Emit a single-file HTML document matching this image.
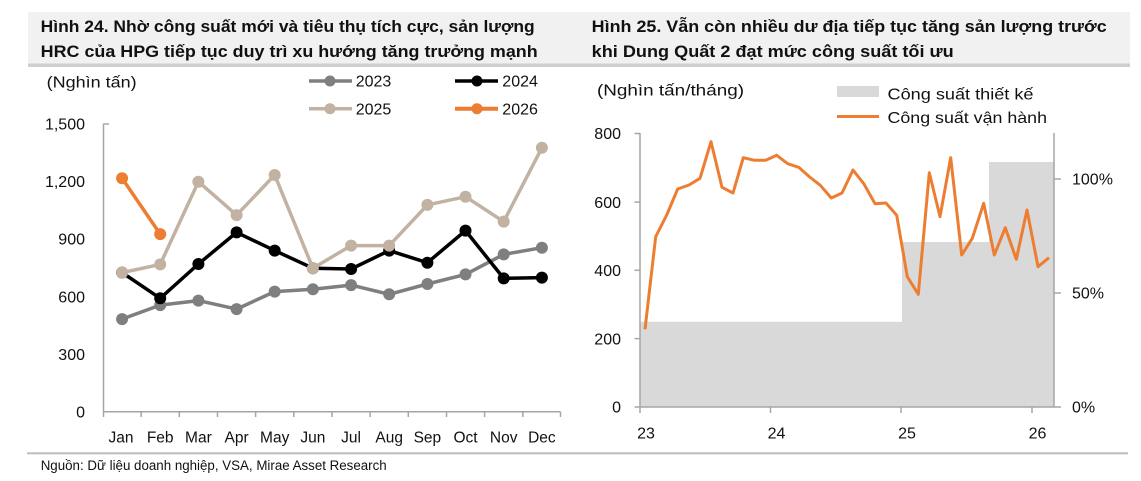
<!DOCTYPE html>
<html><head><meta charset="utf-8"><style>
html,body{margin:0;padding:0;background:#fff;}
svg{display:block;}
text{font-family:"Liberation Sans","Noto Sans CJK SC",sans-serif;fill:#111;}
</style></head><body>
<svg width="1141" height="481" viewBox="0 0 1141 481" xmlns="http://www.w3.org/2000/svg">
<!-- title bar -->
<rect x="28" y="12" width="1102" height="52" fill="#f1f1f1"/>
<rect x="28" y="63.5" width="1102" height="3.5" fill="#cfcfcf"/>
<text x="40.7" y="32" font-size="17" font-weight="bold" textLength="494" lengthAdjust="spacingAndGlyphs">Hình 24. Nhờ công suất mới và tiêu thụ tích cực, sản lượng</text>
<text x="40.7" y="57" font-size="17" font-weight="bold" textLength="497" lengthAdjust="spacingAndGlyphs">HRC của HPG tiếp tục duy trì xu hướng tăng trưởng mạnh</text>
<text x="591.7" y="32" font-size="17" font-weight="bold" textLength="515" lengthAdjust="spacingAndGlyphs">Hình 25. Vẫn còn nhiều dư địa tiếp tục tăng sản lượng trước</text>
<text x="591.7" y="57" font-size="17" font-weight="bold" textLength="362" lengthAdjust="spacingAndGlyphs">khi Dung Quất 2 đạt mức công suất tối ưu</text>

<!-- bottom separator + source -->
<rect x="27" y="452.3" width="1101" height="2" fill="#bdbdbd"/>
<text x="40.7" y="470" font-size="13.5" textLength="346" lengthAdjust="spacingAndGlyphs">Nguồn: Dữ liệu doanh nghiệp, VSA, Mirae Asset Research</text>

<!-- ============ LEFT CHART ============ -->
<text x="46.7" y="87.3" font-size="16" textLength="90" lengthAdjust="spacingAndGlyphs">(Nghìn tấn)</text>
<!-- legend -->
<line x1="309" y1="81" x2="352" y2="81" stroke="#7f7f7f" stroke-width="3.5"/>
<circle cx="330" cy="81" r="5.5" fill="#7f7f7f"/>
<text x="355.7" y="86.7" font-size="16">2023</text>
<line x1="455" y1="81" x2="498" y2="81" stroke="#000" stroke-width="3.5"/>
<circle cx="477" cy="81" r="5.5" fill="#000"/>
<text x="502.3" y="86.7" font-size="16">2024</text>
<line x1="309" y1="108.7" x2="352" y2="108.7" stroke="#c2b2a2" stroke-width="3.5"/>
<circle cx="330" cy="108.7" r="5.5" fill="#c2b2a2"/>
<text x="355.7" y="114.3" font-size="16">2025</text>
<line x1="455" y1="108.7" x2="498" y2="108.7" stroke="#ed7d31" stroke-width="4"/>
<circle cx="477" cy="108.7" r="5.5" fill="#ed7d31"/>
<text x="502.3" y="114.3" font-size="16">2026</text>

<!-- y labels -->
<g font-size="16" text-anchor="end">
<text x="85" y="129.7">1,500</text>
<text x="85" y="187.2">1,200</text>
<text x="85" y="244.7">900</text>
<text x="85" y="302.3">600</text>
<text x="85" y="359.9">300</text>
<text x="85" y="417.4">0</text>
</g>
<!-- axes -->
<g stroke="#a6a6a6" stroke-width="1.5" fill="none">
<line x1="103.5" y1="123.5" x2="103.5" y2="411.7"/>
<line x1="103.5" y1="124" x2="109" y2="124"/>
<line x1="103" y1="411.7" x2="560.5" y2="411.7"/>
<line x1="103.5" y1="411.7" x2="103.5" y2="417"/>
<line x1="141.2" y1="411.7" x2="141.2" y2="417"/>
<line x1="179.3" y1="411.7" x2="179.3" y2="417"/>
<line x1="217.5" y1="411.7" x2="217.5" y2="417"/>
<line x1="255.6" y1="411.7" x2="255.6" y2="417"/>
<line x1="293.8" y1="411.7" x2="293.8" y2="417"/>
<line x1="332" y1="411.7" x2="332" y2="417"/>
<line x1="370.1" y1="411.7" x2="370.1" y2="417"/>
<line x1="408.3" y1="411.7" x2="408.3" y2="417"/>
<line x1="446.5" y1="411.7" x2="446.5" y2="417"/>
<line x1="484.6" y1="411.7" x2="484.6" y2="417"/>
<line x1="522.8" y1="411.7" x2="522.8" y2="417"/>
<line x1="560.5" y1="411.7" x2="560.5" y2="417"/>
</g>
<!-- month labels -->
<g font-size="15.5" text-anchor="middle">
<text x="121" y="442.7">Jan</text>
<text x="160.2" y="442.7">Feb</text>
<text x="198.4" y="442.7">Mar</text>
<text x="236.6" y="442.7">Apr</text>
<text x="274.7" y="442.7">May</text>
<text x="312.9" y="442.7">Jun</text>
<text x="351.1" y="442.7">Jul</text>
<text x="389.2" y="442.7">Aug</text>
<text x="427.4" y="442.7">Sep</text>
<text x="465.5" y="442.7">Oct</text>
<text x="503.7" y="442.7">Nov</text>
<text x="541.9" y="442.7">Dec</text>
</g>
<!-- series 2023 -->
<g fill="#7f7f7f">
<polyline fill="none" stroke="#7f7f7f" stroke-width="3.5" stroke-linejoin="round" points="122.1,319.1 160.2,305.1 198.4,300.6 236.6,309.1 274.7,291.6 312.9,289.3 351.1,285.1 389.2,294.3 427.4,284 465.5,274.4 503.7,254.4 541.9,247.7"/>
<circle cx="122.1" cy="319.1" r="6"/><circle cx="160.2" cy="305.1" r="6"/><circle cx="198.4" cy="300.6" r="6"/><circle cx="236.6" cy="309.1" r="6"/><circle cx="274.7" cy="291.6" r="6"/><circle cx="312.9" cy="289.3" r="6"/><circle cx="351.1" cy="285.1" r="6"/><circle cx="389.2" cy="294.3" r="6"/><circle cx="427.4" cy="284" r="6"/><circle cx="465.5" cy="274.4" r="6"/><circle cx="503.7" cy="254.4" r="6"/><circle cx="541.9" cy="247.7" r="6"/>
</g>
<!-- series 2024 -->
<g fill="#000">
<polyline fill="none" stroke="#000" stroke-width="3.5" stroke-linejoin="round" points="122.1,272.6 160.2,298.3 198.4,264 236.6,232.4 274.7,250.6 312.9,268.2 351.1,269 389.2,250.6 427.4,262.7 465.5,230.6 503.7,278.4 541.9,277.6"/>
<circle cx="122.1" cy="272.6" r="6"/><circle cx="160.2" cy="298.3" r="6"/><circle cx="198.4" cy="264" r="6"/><circle cx="236.6" cy="232.4" r="6"/><circle cx="274.7" cy="250.6" r="6"/><circle cx="312.9" cy="268.2" r="6"/><circle cx="351.1" cy="269" r="6"/><circle cx="389.2" cy="250.6" r="6"/><circle cx="427.4" cy="262.7" r="6"/><circle cx="465.5" cy="230.6" r="6"/><circle cx="503.7" cy="278.4" r="6"/><circle cx="541.9" cy="277.6" r="6"/>
</g>
<!-- series 2025 -->
<g fill="#c2b2a2">
<polyline fill="none" stroke="#c2b2a2" stroke-width="3.5" stroke-linejoin="round" points="122.1,272.6 160.2,264.4 198.4,181.7 236.6,215.1 274.7,175 312.9,268.2 351.1,245.6 389.2,245.6 427.4,204.9 465.5,196.7 503.7,221.6 541.9,147.8"/>
<circle cx="122.1" cy="272.6" r="6"/><circle cx="160.2" cy="264.4" r="6"/><circle cx="198.4" cy="181.7" r="6"/><circle cx="236.6" cy="215.1" r="6"/><circle cx="274.7" cy="175" r="6"/><circle cx="312.9" cy="268.2" r="6"/><circle cx="351.1" cy="245.6" r="6"/><circle cx="389.2" cy="245.6" r="6"/><circle cx="427.4" cy="204.9" r="6"/><circle cx="465.5" cy="196.7" r="6"/><circle cx="503.7" cy="221.6" r="6"/><circle cx="541.9" cy="147.8" r="6"/>
</g>
<!-- series 2026 -->
<g fill="#ed7d31">
<polyline fill="none" stroke="#ed7d31" stroke-width="3.5" points="122.1,178.3 160.2,234.1"/>
<circle cx="122.1" cy="178.3" r="6"/><circle cx="160.2" cy="234.1" r="6"/>
</g>

<!-- ============ RIGHT CHART ============ -->
<text x="597" y="95.5" font-size="16" textLength="147" lengthAdjust="spacingAndGlyphs">(Nghìn tấn/tháng)</text>
<rect x="837" y="86" width="42" height="11" fill="#d9d9d9"/>
<text x="887.5" y="99.5" font-size="16" textLength="146" lengthAdjust="spacingAndGlyphs">Công suất thiết kế</text>
<line x1="837" y1="116.5" x2="879" y2="116.5" stroke="#ed7d31" stroke-width="3"/>
<text x="887.5" y="123" font-size="16" textLength="159.5" lengthAdjust="spacingAndGlyphs">Công suất vận hành</text>

<!-- design capacity area -->
<polygon points="640,407 640,321.7 902,321.7 902,242 989,242 989,162 1054,162 1054,407" fill="#d9d9d9"/>

<!-- left y labels -->
<g font-size="16" text-anchor="end">
<text x="621" y="139.2">800</text>
<text x="621" y="207.8">600</text>
<text x="621" y="276">400</text>
<text x="621" y="344.3">200</text>
<text x="621" y="412.7">0</text>
</g>
<!-- right y labels -->
<g font-size="16">
<text x="1072" y="184.7">100%</text>
<text x="1072" y="298.7">50%</text>
<text x="1072" y="412.4">0%</text>
</g>
<!-- x labels -->
<g font-size="16" text-anchor="middle">
<text x="646" y="438.3">23</text>
<text x="776.5" y="438.3">24</text>
<text x="907" y="438.3">25</text>
<text x="1037.5" y="438.3">26</text>
</g>
<!-- axes -->
<g stroke="#a6a6a6" stroke-width="1.5" fill="none">
<line x1="640" y1="133" x2="640" y2="407"/>
<line x1="634.5" y1="133.5" x2="640" y2="133.5"/>
<line x1="634.5" y1="202.1" x2="640" y2="202.1"/>
<line x1="634.5" y1="270.3" x2="640" y2="270.3"/>
<line x1="634.5" y1="338.6" x2="640" y2="338.6"/>
<line x1="634.5" y1="407" x2="640" y2="407"/>
<line x1="640" y1="407" x2="1054" y2="407"/>
<line x1="640" y1="407" x2="640" y2="413"/>
<line x1="770.5" y1="407" x2="770.5" y2="413"/>
<line x1="901" y1="407" x2="901" y2="413"/>
<line x1="1032" y1="407" x2="1032" y2="413"/>
<line x1="1054" y1="133" x2="1054" y2="407"/>
<line x1="1054" y1="179" x2="1061" y2="179"/>
<line x1="1054" y1="293" x2="1061" y2="293"/>
<line x1="1054" y1="407" x2="1061" y2="407"/>
</g>
<!-- operating capacity line -->
<polyline fill="none" stroke="#ed7d31" stroke-width="3" stroke-linejoin="round" points="645,329.3 655.7,236.7 666.7,215 677.7,189 689,185 700,178.3 711,141.7 722,187.3 733,193 743.3,157.7 754.3,160.3 765.7,160.3 776.7,155.3 787.7,163.7 798.7,167.3 809.7,177 820.3,185.3 831.3,198 842,193 853,170 864,184 875,203.7 886,203 896.7,215.3 907.3,276.7 918.3,294.3 929.3,172.7 940,216.7 950.7,157.7 961.7,255 972.3,238.3 983.7,203.3 994.3,255 1005.3,227.7 1016.3,259.3 1027,210 1038,266.7 1049,257.7"/>
</svg>
</body></html>
